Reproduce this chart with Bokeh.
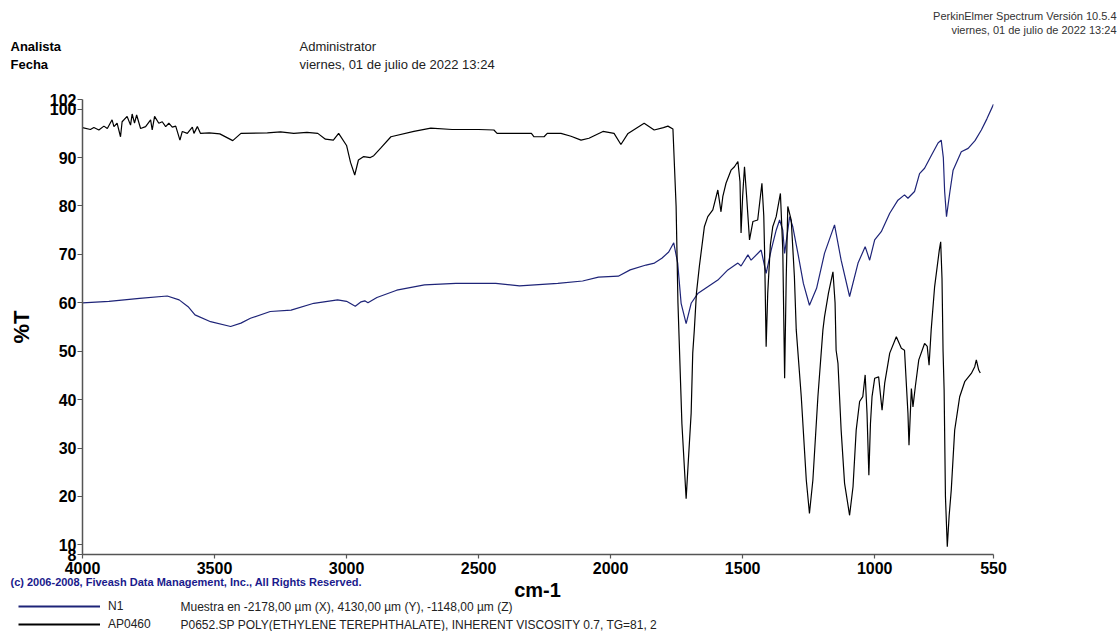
from bokeh.plotting import figure
from bokeh.models import Range1d, FixedTicker, Label, Legend, LegendItem
from bokeh.layouts import column
from bokeh.embed import file_html
from bokeh.resources import INLINE

# ---- data ----
# Sample N1 (blue)
n1_wn = [4000, 3900, 3784, 3679, 3634, 3600, 3574, 3515, 3439, 3400, 3364, 3289, 3210,
         3124, 3034, 3000, 2967, 2945, 2931, 2919, 2885, 2810, 2705, 2586, 2435, 2345,
         2287, 2200, 2106, 2046, 1971, 1926, 1866, 1834, 1806, 1780, 1761, 1746, 1733,
         1714, 1695, 1670, 1632, 1594, 1556, 1518, 1506, 1480, 1468, 1430, 1411, 1392,
         1373, 1360, 1348, 1341, 1322, 1310, 1290, 1270, 1247, 1220, 1190, 1152, 1127,
         1095, 1063, 1036, 1019, 1000, 975, 943, 912, 887, 874, 849, 830, 811, 785, 760,
         748, 740, 735, 728, 715, 703, 672, 646, 620, 596, 575, 550]
n1_t = [60.0, 60.3, 60.9, 61.4, 60.6, 59.2, 57.5, 56.1, 55.1, 55.8, 56.8, 58.2, 58.5,
        59.9, 60.6, 60.3, 59.3, 60.2, 60.4, 60.0, 61.1, 62.6, 63.7, 64.0, 64.0, 63.5,
        63.7, 64.0, 64.5, 65.3, 65.5, 66.8, 67.8, 68.2, 69.2, 70.5, 72.4, 68.2, 59.9,
        55.7, 59.9, 61.9, 63.3, 64.7, 66.8, 68.2, 67.6, 69.9, 68.8, 70.9, 66.1, 70.9,
        75.0, 77.1, 75.0, 70.2, 77.8, 75.7, 70.0, 64.0, 59.5, 63.0, 70.2, 76.1, 68.8,
        61.3, 68.2, 71.6, 68.8, 73.0, 74.7, 78.5, 81.2, 82.3, 81.6, 83.0, 86.7, 87.8, 90.5, 93.0,
        93.6, 90.0, 83.0, 77.8, 83.0, 87.4, 91.2, 91.9, 93.5, 95.7, 98.0, 101.0]

# Library reference AP0460 (black)
ap_wn = [4000, 3970, 3957, 3938, 3919, 3906, 3888, 3881, 3869, 3856, 3850, 3831, 3818,
         3812, 3803, 3795, 3780, 3761, 3742, 3736, 3727, 3711, 3698, 3685, 3673, 3660,
         3647, 3631, 3622, 3603, 3584, 3578, 3565, 3553, 3520, 3480, 3431, 3400, 3300,
         3250, 3200, 3150, 3109, 3080, 3050, 3030, 3000, 2985, 2969, 2955, 2935, 2910,
         2897, 2870, 2832, 2745, 2681, 2600, 2500, 2442, 2430, 2300, 2290, 2252, 2240,
         2188, 2150, 2112, 2082, 2029, 1987, 1961, 1934, 1873, 1835, 1800, 1783, 1764,
         1752, 1745, 1730, 1714, 1705, 1695, 1689, 1683, 1675, 1664, 1645, 1632, 1613,
         1594, 1582, 1575, 1563, 1544, 1531, 1518, 1510, 1506, 1500, 1493, 1485, 1474,
         1461, 1443, 1427, 1420, 1417, 1411, 1405, 1395, 1386, 1373, 1357, 1348, 1341,
         1335, 1329, 1316, 1304, 1297, 1278, 1259, 1247, 1234, 1215, 1196, 1190, 1175,
         1158, 1150, 1146, 1139, 1127, 1114, 1095, 1082, 1070, 1057, 1045, 1036, 1029,
         1022, 1016, 1010, 1000, 985, 972, 962, 943, 918, 899, 887, 874, 870, 861, 855,
         846, 833, 811, 801, 794, 786, 773, 755, 750, 745, 741, 737, 732, 725, 718, 710,
         697, 678, 659, 634, 621, 615, 606, 600]
ap_t = [96.2, 95.8, 96.2, 95.7, 96.5, 96.0, 97.8, 96.4, 97.1, 94.3, 97.4, 98.5, 96.7,
        99.0, 97.1, 98.8, 96.0, 96.4, 97.8, 95.7, 98.5, 97.1, 97.4, 96.4, 97.1, 96.3,
        96.5, 93.6, 95.4, 95.0, 96.3, 95.0, 96.4, 95.0, 95.1, 94.9, 93.5, 95.0, 95.1,
        95.3, 95.0, 95.2, 95.0, 93.8, 93.6, 95.0, 92.5, 89.0, 86.4, 89.5, 90.2, 90.0,
        90.4, 92.0, 94.3, 95.4, 96.1, 95.8, 95.8, 95.7, 95.0, 95.0, 94.3, 94.3, 95.0,
        95.0, 94.4, 93.6, 94.0, 95.4, 95.0, 92.7, 95.0, 97.1, 95.7, 96.2, 96.5, 95.9,
        80.0, 60.0, 35.0, 19.5, 28.0, 37.2, 49.6, 54.4, 62.0, 67.5, 75.7, 77.8, 79.2,
        83.3, 78.8, 82.0, 84.7, 87.4, 88.1, 89.2, 85.0, 74.4, 82.0, 88.1, 82.0, 73.0,
        76.8, 77.1, 84.7, 78.0, 70.9, 50.9, 62.0, 72.0, 75.7, 77.8, 82.6, 70.9, 44.4,
        65.0, 79.9, 77.1, 65.4, 54.4, 40.6, 23.4, 16.5, 23.4, 40.6, 54.4, 57.1, 62.0,
        66.4, 60.0, 50.2, 47.5, 33.7, 22.7, 16.1, 22.0, 33.7, 39.6, 40.6, 45.1, 37.2,
        24.4, 35.0, 40.6, 44.4, 44.7, 37.8, 43.4, 49.6, 53.0, 50.6, 50.2, 37.2, 30.6, 42.3, 38.5,
        42.7, 48.2, 51.6, 51.0, 47.1, 54.4, 63.3, 71.0, 72.6, 65.0, 50.0, 42.0, 20.0, 9.6, 16.0, 21.3,
        33.7, 40.6, 43.7, 45.4, 46.8, 48.2, 46.1, 45.5]

x_ticks = [4000, 3500, 3000, 2500, 2000, 1500, 1000, 550]
y_ticks = [8, 10, 20, 30, 40, 50, 60, 70, 80, 90, 100, 102]

BLUE = "#1e2478"
NAVY = "#1a1a8c"
TXT = "#222222"
FONT = "Liberation Sans"

W = 1119
HEAD_H = 89          # header strip: page y 0..89
MAIN_H = 487         # spectrum: page y 89..576
FOOT_H = 631 - HEAD_H - MAIN_H   # footer: page y 576..631
FL, FR = 82, 993     # frame left/right on the page


def strip(h, y0):
    """A figure with no axes whose data units are page pixels (y downwards)."""
    f = figure(width=W, height=h, x_range=Range1d(0, W), y_range=Range1d(y0 + h, y0),
               output_backend="svg", toolbar_location=None,
               x_axis_type=None, y_axis_type=None, min_border=0, frame_align=False)
    f.outline_line_color = None
    f.grid.visible = False
    return f


def lab(fig, text, x, ymid, size, bold=False, color=TXT, align="left"):
    fig.add_layout(Label(x=x, y=ymid, text=text, text_font=FONT, text_font_size=size,
                         text_font_style="bold" if bold else "normal",
                         text_color=color, text_align=align, text_baseline="middle"))


# ---- header ----
head = strip(HEAD_H, 0)
lab(head, "PerkinElmer Spectrum Versión 10.5.4", 1116, 15, "11px", color="#333333", align="right")
lab(head, "viernes, 01 de julio de 2022 13:24", 1116, 29, "11px", color="#333333", align="right")
lab(head, "Analista", 10, 46, "13px", bold=True, color="black")
lab(head, "Fecha", 10, 64, "13px", bold=True, color="black")
lab(head, "Administrator", 299, 46, "13px")
lab(head, "viernes, 01 de julio de 2022 13:24", 299, 64, "13px")

# ---- main spectrum ----
p = figure(width=W, height=MAIN_H, x_range=Range1d(4000, 550), y_range=Range1d(8, 102),
           output_backend="svg", toolbar_location=None, frame_align=False,
           min_border_left=FL, min_border_right=W - FR,
           min_border_top=10, min_border_bottom=21)
p.outline_line_color = None
p.grid.visible = False

for ax in (p.xaxis[0], p.yaxis[0]):
    ax.axis_line_color = "#555555"
    ax.axis_line_width = 1.5
    ax.major_tick_line_color = "#555555"
    ax.major_tick_line_width = 1.2
    ax.major_tick_in = 0
    ax.minor_tick_line_color = None
    ax.major_label_text_font = FONT
    ax.major_label_text_font_style = "bold"
    ax.major_label_text_font_size = "16px"
    ax.major_label_text_color = "black"
    ax.axis_label_text_font = FONT
    ax.axis_label_text_font_style = "bold"
    ax.axis_label_text_font_size = "22px"
    ax.axis_label_text_color = "black"

p.xaxis.ticker = FixedTicker(ticks=x_ticks)
p.yaxis.ticker = FixedTicker(ticks=y_ticks)
p.xaxis.major_tick_out = 4
p.yaxis.major_tick_out = 5
p.xaxis.major_label_standoff = 3
p.yaxis.major_label_standoff = 1
p.yaxis.axis_label = "%T"
p.yaxis.axis_label_standoff = 13

r_n1 = p.line(n1_wn, n1_t, line_color=BLUE, line_width=1.2)
r_ap = p.line(ap_wn, ap_t, line_color="black", line_width=1.2)

# ---- footer ----
foot = strip(FOOT_H, HEAD_H + MAIN_H)
lab(foot, "cm-1", 537, 589, "20px", bold=True, color="black", align="center")
lab(foot, "(c) 2006-2008, Fiveash Data Management, Inc., All Rights Reserved.", 10, 581, "11px",
    bold=True, color=NAVY)
lab(foot, "Muestra en -2178,00 µm (X), 4130,00 µm (Y), -1148,00 µm (Z)", 180, 606, "12px")
lab(foot, "P0652.SP POLY(ETHYLENE TEREPHTHALATE), INHERENT VISCOSITY 0.7, TG=81, 2", 180, 624, "12px")

# legend keys: same series, drawn in the footer strip where they fall outside its visible range
l_n1 = foot.line(n1_wn, n1_t, line_color=BLUE, line_width=2)
l_ap = foot.line(ap_wn, ap_t, line_color="black", line_width=2)
legend = Legend(items=[LegendItem(label="N1", renderers=[l_n1]),
                       LegendItem(label="AP0460", renderers=[l_ap])],
                location=(18, -1), orientation="vertical",
                glyph_width=82, glyph_height=16, label_height=16, spacing=2,
                label_standoff=8, padding=0, margin=0,
                border_line_alpha=0, background_fill_alpha=0,
                label_text_font=FONT, label_text_font_size="12px", label_text_color=TXT)
foot.add_layout(legend, "center")

layout = column(head, p, foot, spacing=0)
open("out.html", "w").write(file_html(layout, INLINE))
